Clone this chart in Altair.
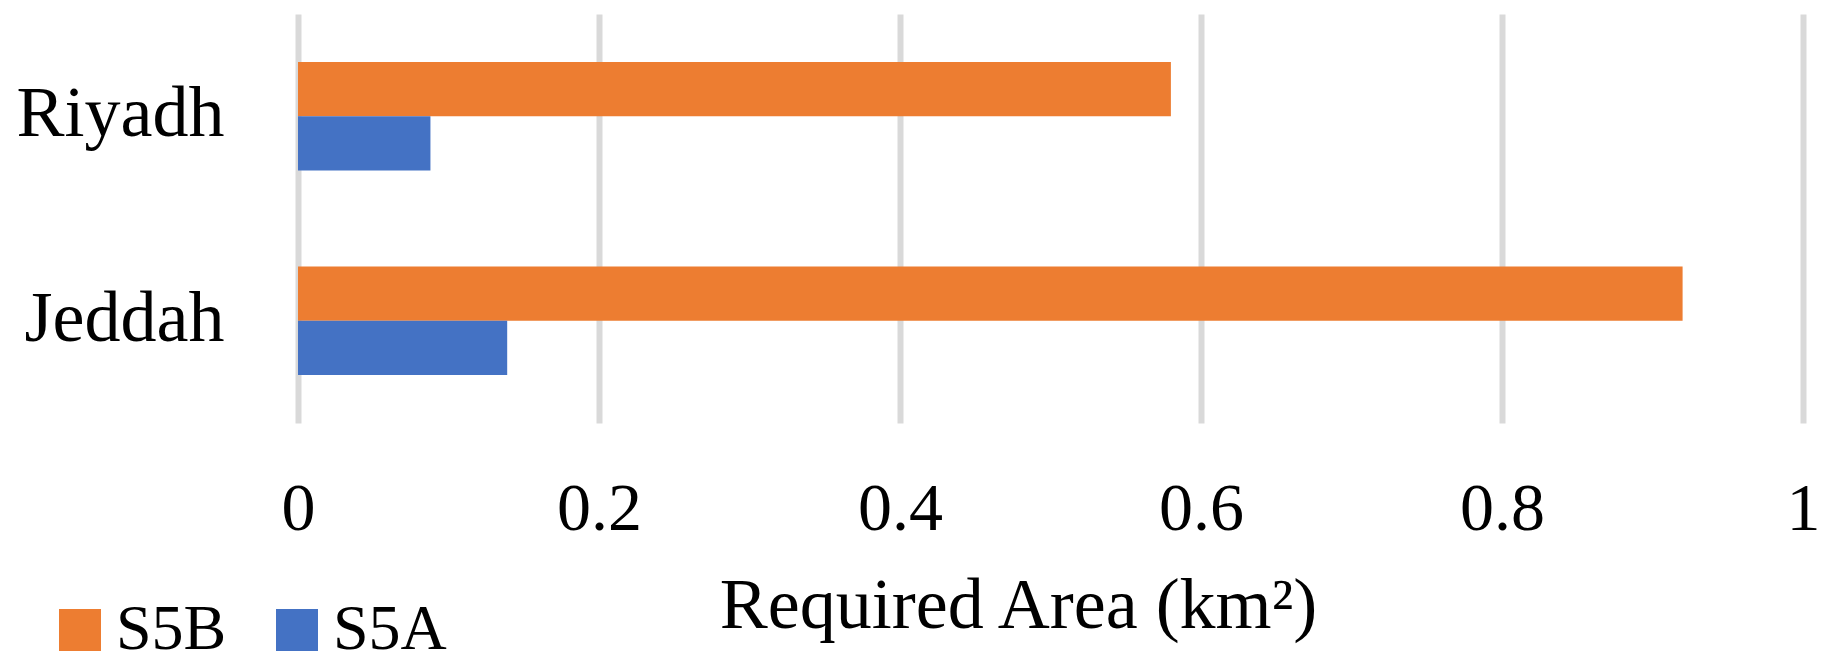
import altair as alt
import pandas as pd

cities = ["Riyadh", "Riyadh", "Jeddah", "Jeddah"]
series = ["S5B", "S5A", "S5B", "S5A"]
values = [0.58, 0.088, 0.92, 0.139]
x_ticks = [0, 0.2, 0.4, 0.6, 0.8, 1]
series_order = ["S5B", "S5A"]
series_colors = ["#ED7D31", "#4472C4"]
city_order = ["Riyadh", "Jeddah"]

df = pd.DataFrame({"City": cities, "Series": series, "Value": values})

FONT = "Liberation Serif"

chart = alt.Chart(df).mark_bar().encode(
    x=alt.X("Value:Q",
            scale=alt.Scale(domain=[0, 1], nice=False, zero=True),
            axis=alt.Axis(values=x_ticks, format="~g", title="Required Area (km²)",
                          grid=True, gridColor="#d9d9d9", gridWidth=6,
                          domain=False, ticks=False,
                          labelFont=FONT, labelFontSize=68, labelColor="black",
                          labelBaseline="alphabetic", labelPadding=106,
                          labelFlush=False, labelOverlap=False,
                          titleFont=FONT, titleFontSize=72, titleFontWeight="normal",
                          titleColor="black", titleX=720, titleY=204,
                          titleAlign="center", titleBaseline="alphabetic")),
    y=alt.Y("City:N", sort=city_order,
            scale=alt.Scale(paddingInner=0.47, paddingOuter=0.235),
            axis=alt.Axis(title=None, domain=False, ticks=False, grid=False,
                          labelFont=FONT, labelFontSize=72, labelColor="black",
                          labelBaseline="alphabetic", labelOffset=20,
                          labelPadding=74, labelAlign="right", labelLimit=400)),
    yOffset=alt.YOffset("Series:N", sort=series_order),
    color=alt.Color("Series:N",
                    scale=alt.Scale(domain=series_order, range=series_colors),
                    legend=alt.Legend(title=None, orient="none", direction="horizontal",
                                      legendX=-250, legendY=584,
                                      symbolType="square", symbolSize=1764,
                                      symbolStrokeWidth=0, symbolOpacity=1,
                                      labelFont=FONT, labelFontSize=64,
                                      labelColor="black", labelOffset=4,
                                      columnPadding=38, labelLimit=400)),
).properties(
    width=1505, height=409,
    autosize=alt.AutoSizeParams(type="none"),
    padding={"left": 290, "top": 6, "right": 16, "bottom": 240},
).configure(background="white").configure_view(stroke=None, strokeWidth=0)

chart.save("out.html", embed_options={"renderer": "svg", "actions": False})
